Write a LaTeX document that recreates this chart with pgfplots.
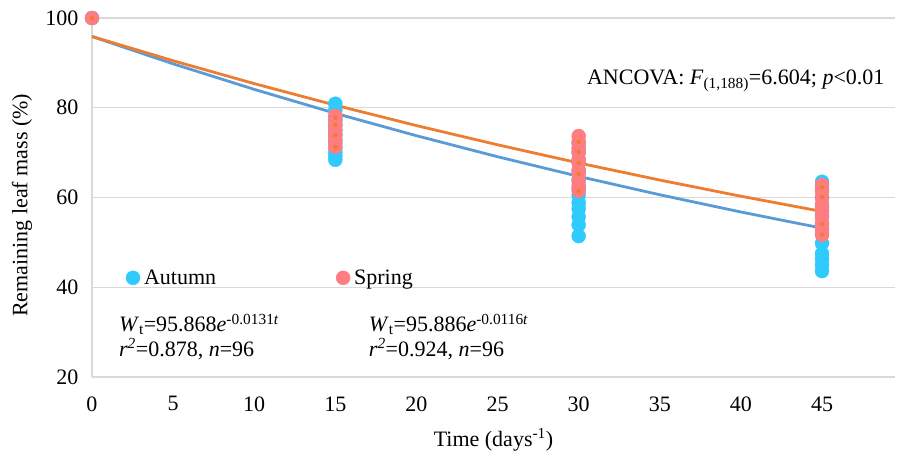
\documentclass[border=0pt]{standalone}
\usepackage{fontspec}
\setmainfont{Liberation Serif}
\usepackage{pgfplots}
\pgfplotsset{compat=1.18}
\usetikzlibrary{calc}
\definecolor{autumn}{HTML}{2FCBFD}
\definecolor{spring}{HTML}{FF7C80}
\definecolor{fitA}{HTML}{5B9BD5}
\definecolor{fitS}{HTML}{ED7D31}
\definecolor{gridc}{HTML}{D9D9D9}

\begin{document}
\begin{tikzpicture}[font=\fontsize{22}{26}\selectfont]
\begin{axis}[
    name=ax,
    scale only axis,
    width=803pt, height=359pt,
    xmin=0, xmax=49.5, ymin=20, ymax=100,
    axis x line=bottom, axis y line=left,
    axis line style={-, gridc, line width=1.2pt},
    xtick={0,5,...,45}, ytick={20,40,...,100},
    major tick length=0pt,
    ymajorgrids, grid style={gridc, line width=1.2pt},
    xticklabel={\rmfamily\pgfmathprintnumber[assume math mode=true]{\tick}},
    yticklabel={\rmfamily\pgfmathprintnumber[assume math mode=true]{\tick}},
    xticklabel style={yshift=-16pt},
    yticklabel style={xshift=-10pt},
    xlabel={Time (days\textsuperscript{-1})},
    ylabel={Remaining leaf mass (\%)},
    xlabel style={at={(axis description cs:0.5,0)}, anchor=center, yshift=-63pt},
    ylabel style={at={(axis description cs:0,0.478)}, anchor=center, yshift=70pt},
    clip=false,
    legend style={at={(axis cs:1.9,42.1)}, anchor=west, draw=none, fill=none,
        legend columns=2, font=\fontsize{22}{26}\selectfont,
        /tikz/every odd column/.append style={column sep=2pt},
        /tikz/every even column/.append style={column sep=118pt}},
    legend image code/.code={\draw[#1, mark repeat=2, mark phase=2]
        plot coordinates {(0pt,0pt) (7pt,0pt) (14pt,0pt)};},
]
% Autumn observations
\addplot[only marks, mark=*, mark size=7pt, color=autumn] coordinates {
    (0,100)
    (15,80.9) (15,79.5) (15,78.0) (15,77.0) (15,76.0) (15,75.0) (15,74.0)
    (15,73.0) (15,72.0) (15,71.0) (15,70.0) (15,69.2) (15,68.4)
    (30,72.0) (30,70.0) (30,68.0) (30,66.0) (30,64.0) (30,62.0) (30,60.5)
    (30,58.8) (30,57.5) (30,55.7) (30,53.9) (30,51.4)
    (45,63.5) (45,62.0) (45,60.0) (45,58.0) (45,56.0) (45,54.0) (45,52.0)
    (45,49.8) (45,47.5) (45,46.3) (45,45.0) (45,43.6)
};
\addlegendentry{Autumn}
% Spring observations
\addplot[only marks, mark=*, mark size=7pt, color=spring] coordinates {
    (0,100)
    (15,78.2) (15,77.5) (15,76.2) (15,75.0) (15,73.9) (15,72.6) (15,71.3)
    (30,73.7) (30,72.4) (30,71.0) (30,70.2) (30,68.5) (30,67.7) (30,66.0)
    (30,65.3) (30,63.5) (30,62.5) (30,61.5)
    (45,62.8) (45,61.5) (45,60.1) (45,58.5) (45,57.0) (45,55.5) (45,54.1)
    (45,53.0) (45,51.7)
};
\addlegendentry{Spring}
\addplot[only marks, mark=*, mark size=2pt, color=fitS, forget plot] coordinates {
    (0,100)
    (15,77.8) (15,76.2) (15,73.9) (15,71.3)
    (30,72.4) (30,70.2) (30,67.7) (30,65.3) (30,61.5)
    (45,62.3) (45,60.1) (45,54.1) (45,51.7)
};
% fitted curves
\addplot[fitA, line width=2.8pt, forget plot] coordinates {
    (0,95.87) (5,89.79) (10,84.10) (15,78.76) (20,73.77) (25,69.09)
    (30,64.71) (35,60.61) (40,56.77) (45,53.17)
};
\addplot[fitS, line width=2.8pt, forget plot] coordinates {
    (0,95.89) (5,90.48) (10,85.38) (15,80.57) (20,76.03) (25,71.75)
    (30,67.70) (35,63.89) (40,60.29) (45,56.89)
};
\node[anchor=base west] at (axis cs:1.45,30.13)
    {\textit{W}\textsubscript{t}=95.868\textit{e}\textsuperscript{-0.0131\textit{t}}};
\node[anchor=base west] at (axis cs:1.45,24.6)
    {\textit{r}\textsuperscript{\textit{2}}=0.878, \textit{n}=96};
\node[anchor=base west] at (axis cs:16.85,30.13)
    {\textit{W}\textsubscript{t}=95.886\textit{e}\textsuperscript{-0.0116\textit{t}}};
\node[anchor=base west] at (axis cs:16.85,24.6)
    {\textit{r}\textsuperscript{\textit{2}}=0.924, \textit{n}=96};
\node[anchor=base west] at (axis cs:30.3,85.08)
    {ANCOVA: \textit{F}\textsubscript{(1,188)}=6.604; \textit{p}<0.01};
\end{axis}
\pgfresetboundingbox
\path ($(ax.south west)+(-92pt,-82pt)$) rectangle ($(ax.south west)+(805pt,377pt)$);
\end{tikzpicture}
\end{document}
